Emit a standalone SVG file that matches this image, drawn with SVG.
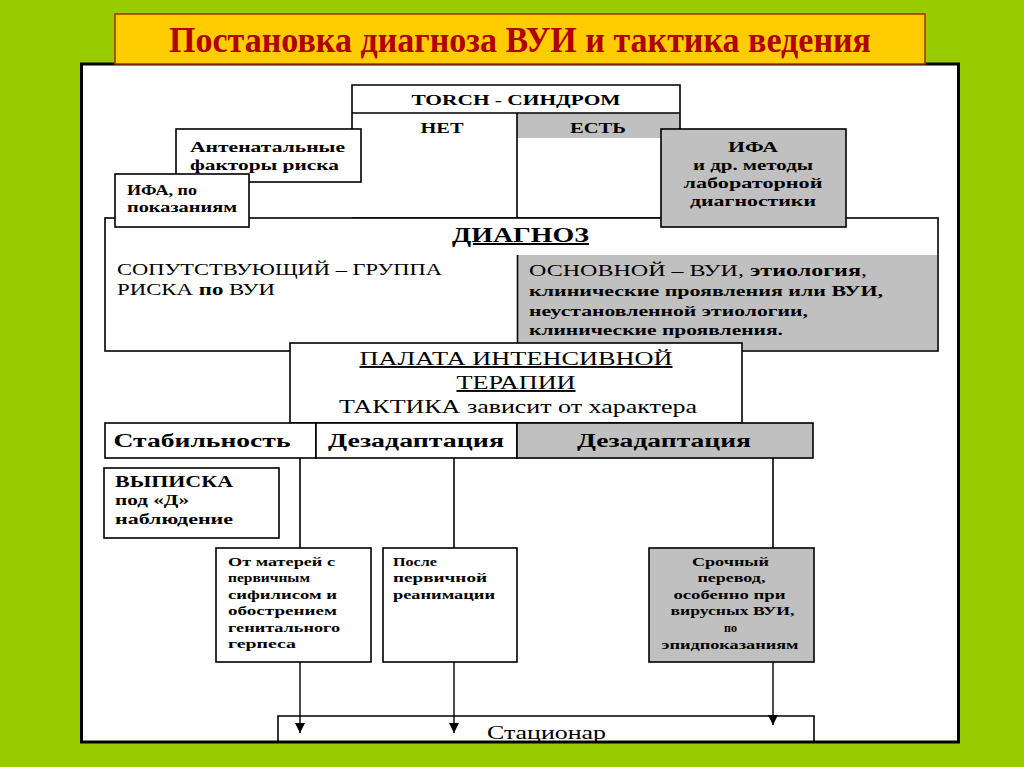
<svg xmlns="http://www.w3.org/2000/svg" width="1024" height="767" viewBox="0 0 1024 767">
<defs>
<style>
.t{font-family:"Liberation Serif","Times New Roman",serif;fill:#000}
.b{font-weight:bold}
.box{fill:#fff;stroke:#000;stroke-width:1.6}
.gbox{fill:#c0c0c0;stroke:#000;stroke-width:1.6}
.ln{stroke:#000;stroke-width:1.6;fill:none}
.ar{stroke:#000;stroke-width:1.4;fill:none;marker-end:url(#ah)}
</style>
<marker id="ah" markerUnits="userSpaceOnUse" markerWidth="10" markerHeight="10" viewBox="0 0 10 10" refX="10" refY="5" orient="auto">
<path d="M0,0 L10,5 L0,10 Z" fill="#000"/>
</marker>
</defs>
<rect x="0" y="0" width="1024" height="767" fill="#99cc00"/>
<rect x="81.5" y="64" width="877" height="678" fill="#fff"/>

<g id="torch">
<rect x="352" y="85" width="328" height="133" fill="#fff"/>
<rect x="517" y="113" width="163" height="25" fill="#c0c0c0"/>
<path class="ln" d="M352,129 V85 H680 V129 M352,113 H680 M517,113 V218 M352,218 H680"/>
<text class="t b" x="516" y="105" font-size="15" text-anchor="middle" textLength="209" lengthAdjust="spacingAndGlyphs">TORCH - СИНДРОМ</text>
<text class="t b" x="442" y="133" font-size="15" text-anchor="middle" textLength="43" lengthAdjust="spacingAndGlyphs">НЕТ</text>
<text class="t b" x="598" y="133" font-size="15" text-anchor="middle" textLength="56" lengthAdjust="spacingAndGlyphs">ЕСТЬ</text>
</g>

<g id="diagnosis">
<rect class="box" x="105" y="218" width="833" height="133"/>
<rect x="517" y="255" width="420" height="95" fill="#c0c0c0"/>
<line class="ln" x1="517.5" y1="255" x2="517.5" y2="350"/>
<text class="t b" x="452" y="242" font-size="20" textLength="137" lengthAdjust="spacingAndGlyphs" text-decoration="underline">ДИАГНОЗ</text>
<text class="t" x="117" y="275" font-size="17" textLength="325" lengthAdjust="spacingAndGlyphs">СОПУТСТВУЮЩИЙ – ГРУППА</text>
<text class="t" x="117" y="295" font-size="17" textLength="158" lengthAdjust="spacingAndGlyphs">РИСКА <tspan class="b">по</tspan> ВУИ</text>
<text class="t" x="529" y="276" font-size="16" textLength="338" lengthAdjust="spacingAndGlyphs">ОСНОВНОЙ – ВУИ, <tspan class="b">этиология</tspan>,</text>
<text class="t b" x="529" y="296" font-size="15" textLength="354" lengthAdjust="spacingAndGlyphs">клинические проявления или ВУИ,</text>
<text class="t b" x="529" y="316" font-size="15" textLength="279" lengthAdjust="spacingAndGlyphs">неустановленной этиологии,</text>
<text class="t b" x="529" y="335" font-size="15" textLength="254" lengthAdjust="spacingAndGlyphs">клинические проявления.</text>
</g>

<g id="antenatal">
<rect class="box" x="176" y="129" width="185" height="53"/>
<text class="t b" x="190" y="152" font-size="15" textLength="155" lengthAdjust="spacingAndGlyphs">Антенатальные</text>
<text class="t b" x="190" y="170" font-size="15" textLength="149" lengthAdjust="spacingAndGlyphs">факторы риска</text>
</g>

<g id="ifa-left">
<rect class="box" x="115" y="174" width="134" height="53"/>
<text class="t b" x="127" y="195" font-size="15" textLength="70" lengthAdjust="spacingAndGlyphs">ИФА, по</text>
<text class="t b" x="127" y="212" font-size="14" textLength="110" lengthAdjust="spacingAndGlyphs">показаниям</text>
</g>

<g id="ifa-right">
<rect class="gbox" x="661" y="129" width="185" height="98"/>
<text class="t b" x="753" y="152" font-size="15" text-anchor="middle" textLength="50" lengthAdjust="spacingAndGlyphs">ИФА</text>
<text class="t b" x="753" y="170" font-size="15" text-anchor="middle" textLength="120" lengthAdjust="spacingAndGlyphs">и др. методы</text>
<text class="t b" x="753" y="188" font-size="15" text-anchor="middle" textLength="139" lengthAdjust="spacingAndGlyphs">лабораторной</text>
<text class="t b" x="753" y="206" font-size="15" text-anchor="middle" textLength="126" lengthAdjust="spacingAndGlyphs">диагностики</text>
</g>

<g id="icu">
<rect class="box" x="290" y="343" width="452" height="80"/>
<text class="t" x="516" y="365" font-size="19" text-anchor="middle" textLength="313" lengthAdjust="spacingAndGlyphs" text-decoration="underline">ПАЛАТА ИНТЕНСИВНОЙ</text>
<text class="t" x="516" y="389" font-size="19" text-anchor="middle" textLength="119" lengthAdjust="spacingAndGlyphs" text-decoration="underline">ТЕРАПИИ</text>
<text class="t" x="518" y="413" font-size="19" text-anchor="middle" textLength="358" lengthAdjust="spacingAndGlyphs">ТАКТИКА зависит от характера</text>
</g>

<g id="stability">
<rect class="box" x="105" y="423" width="211" height="35"/>
<text class="t b" x="202" y="447" font-size="18" text-anchor="middle" textLength="177" lengthAdjust="spacingAndGlyphs">Стабильность</text>
</g>
<g id="dezadapt1">
<rect class="box" x="316" y="423" width="201" height="35"/>
<text class="t b" x="416" y="447" font-size="18" text-anchor="middle" textLength="176" lengthAdjust="spacingAndGlyphs">Дезадаптация</text>
</g>
<g id="dezadapt2">
<rect class="gbox" x="517" y="423" width="296" height="35"/>
<text class="t b" x="664" y="447" font-size="18" text-anchor="middle" textLength="174" lengthAdjust="spacingAndGlyphs">Дезадаптация</text>
</g>

<g id="connectors">
<line class="ln" x1="300" y1="458" x2="300" y2="548"/>
<line class="ln" x1="454" y1="458" x2="454" y2="548"/>
<line class="ln" x1="773" y1="458" x2="773" y2="548"/>
<line class="ar" x1="300" y1="662" x2="300" y2="733"/>
<line class="ar" x1="454" y1="662" x2="454" y2="733"/>
<line class="ar" x1="773" y1="662" x2="773" y2="725"/>
</g>

<g id="discharge">
<rect class="box" x="104" y="468" width="175" height="70"/>
<text class="t b" x="115" y="487" font-size="16" textLength="118" lengthAdjust="spacingAndGlyphs">ВЫПИСКА</text>
<text class="t b" x="115" y="505" font-size="15" textLength="74" lengthAdjust="spacingAndGlyphs">под «Д»</text>
<text class="t b" x="115" y="524" font-size="15" textLength="118" lengthAdjust="spacingAndGlyphs">наблюдение</text>
</g>

<g id="mothers">
<rect class="box" x="216" y="548" width="155" height="114"/>
<text class="t b" font-size="12.5" x="228">
<tspan x="228" y="566" textLength="107" lengthAdjust="spacingAndGlyphs">От матерей с</tspan>
<tspan x="228" y="582" textLength="82" lengthAdjust="spacingAndGlyphs">первичным</tspan>
<tspan x="228" y="599" textLength="109" lengthAdjust="spacingAndGlyphs">сифилисом и</tspan>
<tspan x="228" y="615" textLength="109" lengthAdjust="spacingAndGlyphs">обострением</tspan>
<tspan x="228" y="632" textLength="112" lengthAdjust="spacingAndGlyphs">генитального</tspan>
<tspan x="228" y="648" textLength="68" lengthAdjust="spacingAndGlyphs">герпеса</tspan>
</text>
</g>

<g id="after">
<rect class="box" x="383" y="548" width="134" height="114"/>
<text class="t b" font-size="12.5" x="393">
<tspan x="393" y="566" textLength="44" lengthAdjust="spacingAndGlyphs">После</tspan>
<tspan x="393" y="582" textLength="94" lengthAdjust="spacingAndGlyphs">первичной</tspan>
<tspan x="393" y="599" textLength="102" lengthAdjust="spacingAndGlyphs">реанимации</tspan>
</text>
</g>

<g id="urgent">
<rect class="gbox" x="649" y="548" width="165" height="114"/>
<text class="t b" font-size="12.5" text-anchor="middle">
<tspan x="732" y="566" textLength="77" lengthAdjust="spacingAndGlyphs">Срочный</tspan>
<tspan x="733" y="582" textLength="68" lengthAdjust="spacingAndGlyphs">перевод,</tspan>
<tspan x="731" y="599" textLength="112" lengthAdjust="spacingAndGlyphs">особенно при</tspan>
<tspan x="734" y="615" textLength="124" lengthAdjust="spacingAndGlyphs">вирусных ВУИ,</tspan>
<tspan x="732" y="632" textLength="13" lengthAdjust="spacingAndGlyphs">по</tspan>
<tspan x="730" y="649" textLength="137" lengthAdjust="spacingAndGlyphs">эпидпоказаниям</tspan>
</text>
</g>

<g id="hospital">
<path class="ln" d="M278,742 V716 H814 V742" fill="#fff"/>
<text class="t" x="487" y="739" font-size="19" textLength="119" lengthAdjust="spacingAndGlyphs">Стационар</text>
</g>

<rect x="0" y="743" width="1024" height="24" fill="#99cc00"/>
<rect x="81.5" y="64" width="877" height="678" fill="none" stroke="#000" stroke-width="3"/>

<g id="title">
<rect x="115" y="14" width="810" height="50" fill="#ffcc00" stroke="#993300" stroke-width="1.5"/>
<text class="t b" x="520" y="52" font-size="35" text-anchor="middle" textLength="702" lengthAdjust="spacingAndGlyphs" style="fill:#b00000">Постановка диагноза ВУИ и тактика ведения</text>
</g>
</svg>
